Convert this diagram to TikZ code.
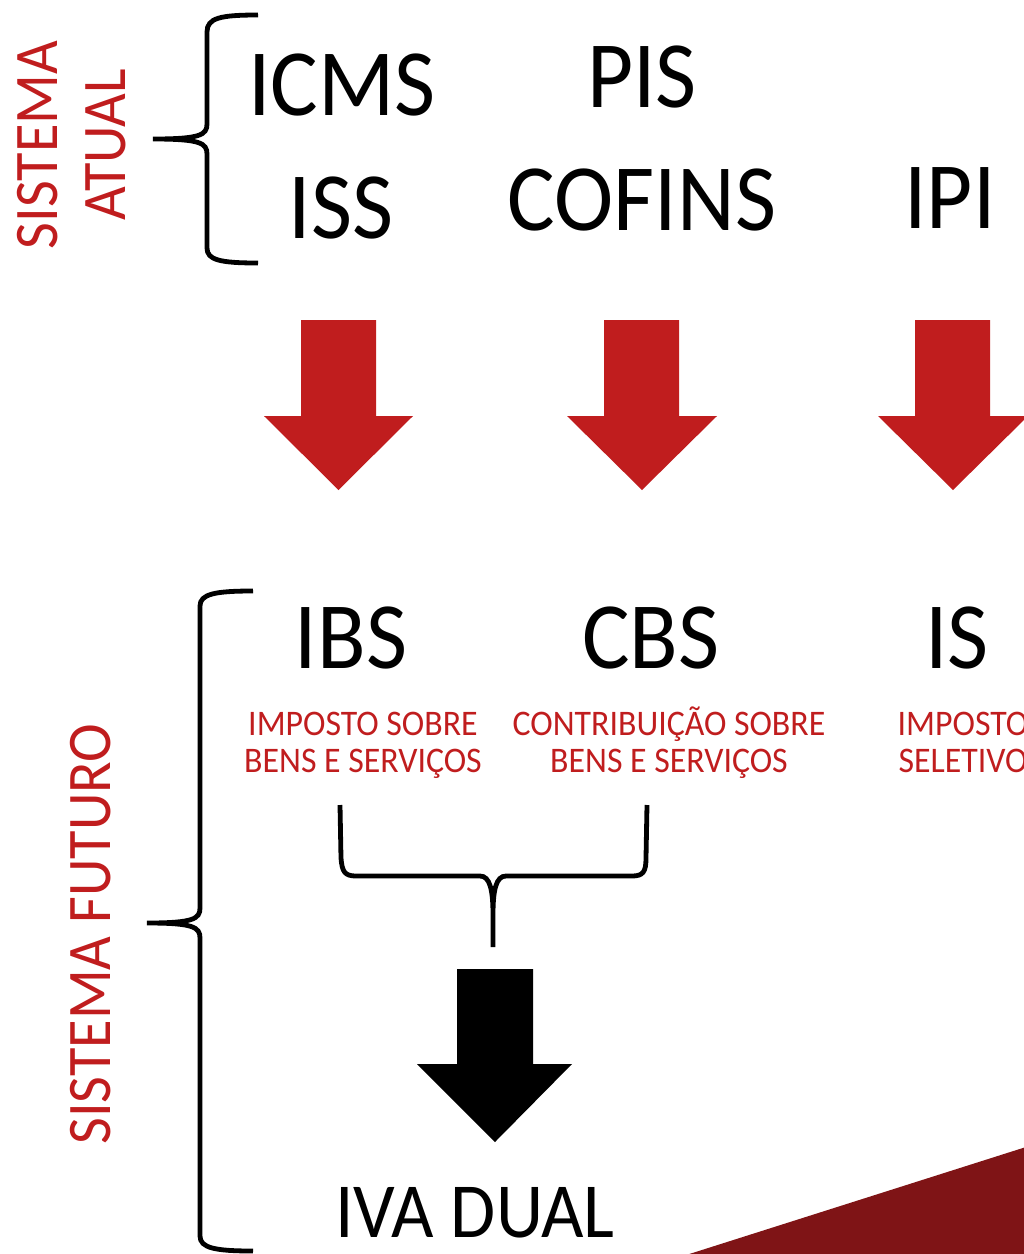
\documentclass[tikz,border=0pt]{standalone}
\usepackage{fontspec}
\setmainfont{Carlito}[FakeStretch=0.94]

\definecolor{taxred}{HTML}{C01D1E}
\definecolor{darkred}{HTML}{7F1416}

\tikzset{
  bigtax/.style={font=\fontsize{95}{95}\selectfont, inner sep=0pt, anchor=base},
  desc/.style={font=\fontsize{36}{37}\selectfont, text=taxred, align=center, inner sep=0pt, anchor=base},
  side/.style={font=\fontsize{62}{68}\selectfont, text=taxred, align=center, inner sep=0pt, anchor=base, rotate=90},
  brace/.style={line width=4.8pt},
  blockarrow/.style={fill=taxred}
}

\begin{document}
\begin{tikzpicture}[x=1pt,y=-1pt]
\useasboundingbox (0,0) rectangle (1024,1254);
\clip (0,0) rectangle (1024,1254);

% sistema atual
\node[side] (atual) at (125,145) {SISTEMA\\ATUAL};

\draw[brace] (258,15) .. controls (220,15) and (207,18) .. (207,32) -- (207,124)
  .. controls (207,135) and (200,139) .. (153,139)
  .. controls (200,139) and (207,143) .. (207,154) -- (207,248)
  .. controls (207,260) and (220,263) .. (258,263);

\node[bigtax] (icms) at (342,115) {ICMS};
\node[bigtax] (iss) at (341,238) {ISS};
\node[bigtax] (pis) at (642,107) {PIS};
\node[bigtax] (cofins) at (642,230) {COFINS};
\node[bigtax] (ipi) at (950,228) {IPI};

% red arrows
\fill[blockarrow] (301,320) -- (376,320) -- (376,416) -- (413,416) -- (338.5,490) -- (264,416) -- (301,416) -- cycle;
\fill[blockarrow] (604,320) -- (679,320) -- (679,416) -- (717,416) -- (642,490) -- (567,416) -- (604,416) -- cycle;
\fill[blockarrow] (915,320) -- (990,320) -- (990,416) -- (1028,416) -- (953,490) -- (878,416) -- (915,416) -- cycle;

% sistema futuro
\node[side] (futuro) at (110,934) {SISTEMA FUTURO};

\draw[brace] (253,591) .. controls (215,591) and (200,594) .. (200,606) -- (200,908)
  .. controls (200,919) and (193,923) .. (147,923)
  .. controls (193,923) and (200,927) .. (200,938) -- (200,1236)
  .. controls (200,1248) and (215,1251) .. (253,1251);

\node[bigtax] (ibs) at (351,668) {IBS};
\node[bigtax] (cbs) at (651,668) {CBS};
\node[bigtax] (is) at (957,668) {IS};

\node[desc] (ibsdesc) at (363,772) {IMPOSTO SOBRE\\BENS E SERVIÇOS};
\node[desc] (cbsdesc) at (669,772) {CONTRIBUIÇÃO SOBRE\\BENS E SERVIÇOS};
\node[desc] (isdesc) at (963,772) {IMPOSTO\\SELETIVO};

\draw[brace] (340,805) -- (341,858) .. controls (342,872) and (345,876) .. (356,876) -- (480,876)
  .. controls (490,876) and (493,890) .. (493,915) -- (493,947)
  (493,915) .. controls (493,890) and (496,876) .. (506,876) -- (632,876)
  .. controls (643,876) and (646,872) .. (646,858) -- (647,805);

% black arrow
\fill (457,969) -- (533,969) -- (533,1064) -- (572,1064) -- (495,1142) -- (417,1064) -- (457,1064) -- cycle;

\node[bigtax, font=\fontsize{78}{78}\selectfont] (iva) at (475,1237) {IVA DUAL};

\fill[darkred] (683,1256) -- (1026,1147) -- (1026,1256) -- cycle;
\end{tikzpicture}
\end{document}
